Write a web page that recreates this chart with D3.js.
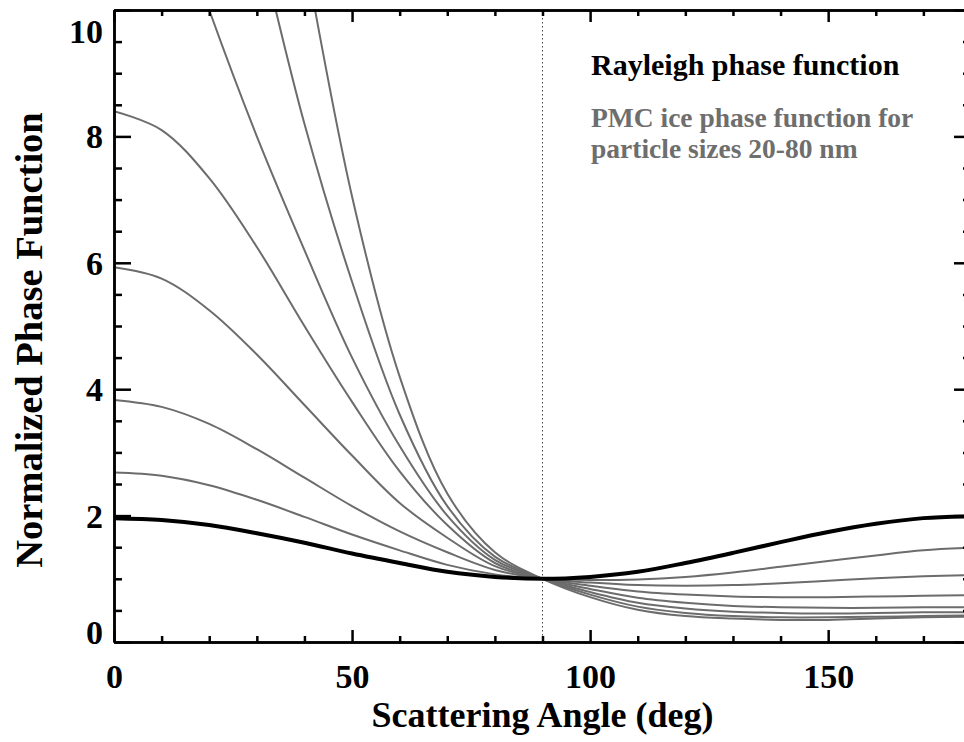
<!DOCTYPE html>
<html>
<head>
<meta charset="utf-8">
<script src="https://cdn.jsdelivr.net/npm/d3@7"></script>
<style>
  body { margin: 0; background: #fff; }
  svg { display: block; font-family: 'Liberation Serif', 'Times New Roman', serif; font-weight: bold; }
</style>
</head>
<body>
<div id="chart"></div>
<script>
// scattering angle grid (deg)
const angles = [0, 10, 20, 30, 40, 50, 60, 70, 80, 90, 100, 110, 120, 130, 140, 150, 160, 170, 180]

// normalized phase functions (null = off the top of the plot)
const rayleigh = [1.96, 1.93, 1.85, 1.72, 1.57, 1.4, 1.25, 1.11, 1.03, 1.0, 1.03, 1.11, 1.25, 1.41, 1.58, 1.74, 1.87, 1.96, 1.99]
const pmc20 = [2.68, 2.63, 2.48, 2.25, 1.98, 1.7, 1.45, 1.22, 1.07, 1.0, 0.98, 0.99, 1.03, 1.1, 1.19, 1.28, 1.37, 1.45, 1.49]
const pmc30 = [3.83, 3.72, 3.45, 3.05, 2.6, 2.15, 1.75, 1.42, 1.14, 1.0, 0.94, 0.9, 0.89, 0.9, 0.93, 0.97, 1.01, 1.04, 1.06]
const pmc40 = [5.93, 5.75, 5.25, 4.55, 3.75, 2.95, 2.2, 1.65, 1.2, 1.0, 0.89, 0.8, 0.75, 0.72, 0.71, 0.71, 0.72, 0.73, 0.74]
const pmc50 = [8.4, 8.1, 7.34, 6.25, 5.0, 3.8, 2.7, 1.85, 1.25, 1.0, 0.84, 0.7, 0.62, 0.57, 0.55, 0.54, 0.54, 0.55, 0.55]
const pmc60 = [null, 12.2, 10.0, 8.0, 6.2, 4.5, 3.1, 2.0, 1.3, 1.0, 0.79, 0.62, 0.53, 0.48, 0.46, 0.45, 0.46, 0.47, 0.47]
const pmc70 = [null, null, 14.0, 11.2, 8.2, 5.7, 3.6, 2.15, 1.35, 1.0, 0.75, 0.56, 0.46, 0.41, 0.39, 0.39, 0.4, 0.41, 0.42]
const pmc80 = [null, null, null, 15.0, 10.9, 7.05, 4.2, 2.35, 1.42, 1.0, 0.71, 0.51, 0.41, 0.37, 0.35, 0.35, 0.37, 0.39, 0.4]

const xTicks = [0, 50, 100, 150]
const xMinor = [10, 20, 30, 40, 60, 70, 80, 90, 110, 120, 130, 140, 160, 170]
const yTicks = [0, 2, 4, 6, 8, 10]
const yMinor = [0.5, 1, 1.5, 2.5, 3, 3.5, 4.5, 5, 5.5, 6.5, 7, 7.5, 8.5, 9, 9.5]

const pmcSeries = [pmc20, pmc30, pmc40, pmc50, pmc60, pmc70, pmc80]

const chartWidth = 964
const chartHeight = 742
const plot = { left: 114, right: 971, top: 10, bottom: 642 }

const svg = d3
  .select('#chart')
  .append('svg')
  .attr('width', chartWidth)
  .attr('height', chartHeight)

const x = d3.scaleLinear().domain([0, 180]).range([plot.left, plot.right])
const y = d3.scaleLinear().domain([0, 10]).range([plot.bottom, plot.top])

svg
  .append('clipPath')
  .attr('id', 'clip')
  .append('rect')
  .attr('x', plot.left)
  .attr('y', plot.top)
  .attr('width', plot.right - plot.left)
  .attr('height', plot.bottom - plot.top)

const line = d3
  .line()
  .defined((d) => d[1] !== null)
  .x((d) => x(d[0]))
  .y((d) => y(d[1]))
  .curve(d3.curveCatmullRom.alpha(0.5))

const toPoints = (values) => angles.map((a, i) => [a, values[i]])

const lines = svg.append('g').attr('clip-path', 'url(#clip)')

// dotted line at 90 deg
lines
  .append('line')
  .attr('x1', x(90))
  .attr('x2', x(90))
  .attr('y1', y(10))
  .attr('y2', y(0))
  .attr('stroke', '#444')
  .attr('stroke-width', 1)
  .attr('stroke-dasharray', '1.5,2.5')

lines
  .selectAll('path.pmc')
  .data(pmcSeries)
  .enter()
  .append('path')
  .attr('class', 'pmc')
  .attr('d', (d) => line(toPoints(d)))
  .attr('fill', 'none')
  .attr('stroke', '#6c6c6c')
  .attr('stroke-width', 2)

lines
  .append('path')
  .attr('d', line(toPoints(rayleigh)))
  .attr('fill', 'none')
  .attr('stroke', '#000')
  .attr('stroke-width', 4)

// axes: ticks point into the plot, labels only on bottom and left
const styleAxis = (g) => {
  g.select('.domain').attr('stroke', '#000').attr('stroke-width', 2.5)
  g.selectAll('.tick line').attr('stroke', '#000').attr('stroke-width', 2.5)
}
const styleLabels = (sel) =>
  sel
    .attr('fill', '#000')
    .style('font-size', '34px')
    .style('font-family', 'Liberation Serif')
    .style('font-weight', 'bold')

const axisB = svg
  .append('g')
  .attr('transform', `translate(0,${plot.bottom})`)
  .call(d3.axisBottom(x).tickValues(xTicks).tickSizeInner(-12).tickSizeOuter(0).tickPadding(0))
axisB.call(styleAxis)
axisB.selectAll('text').attr('y', 46).attr('dy', 0).call(styleLabels)
svg
  .append('g')
  .attr('transform', `translate(0,${plot.bottom})`)
  .call(d3.axisBottom(x).tickValues(xMinor).tickSizeInner(-6).tickSizeOuter(0).tickFormat(''))
  .call(styleAxis)

svg
  .append('g')
  .attr('transform', `translate(0,${plot.top})`)
  .call(d3.axisTop(x).tickValues(xTicks).tickSizeInner(-12).tickSizeOuter(0).tickFormat(''))
  .call(styleAxis)
svg
  .append('g')
  .attr('transform', `translate(0,${plot.top})`)
  .call(d3.axisTop(x).tickValues(xMinor).tickSizeInner(-6).tickSizeOuter(0).tickFormat(''))
  .call(styleAxis)

const axisL = svg
  .append('g')
  .attr('transform', `translate(${plot.left},0)`)
  .call(d3.axisLeft(y).tickValues(yTicks).tickSizeInner(-17).tickSizeOuter(0).tickPadding(11))
axisL.call(styleAxis)
axisL
  .selectAll('text')
  .attr('dy', (d) => (d === 10 ? '0.95em' : d === 0 ? '0.05em' : '0.34em'))
  .call(styleLabels)
svg
  .append('g')
  .attr('transform', `translate(${plot.left},0)`)
  .call(d3.axisLeft(y).tickValues(yMinor).tickSizeInner(-8).tickSizeOuter(0).tickFormat(''))
  .call(styleAxis)

svg
  .append('g')
  .attr('transform', `translate(${plot.right},0)`)
  .call(d3.axisRight(y).tickValues(yTicks).tickSizeInner(-17).tickSizeOuter(0).tickFormat(''))
  .call(styleAxis)
svg
  .append('g')
  .attr('transform', `translate(${plot.right},0)`)
  .call(d3.axisRight(y).tickValues(yMinor).tickSizeInner(-8).tickSizeOuter(0).tickFormat(''))
  .call(styleAxis)

// axis titles
svg
  .append('text')
  .attr('x', x(90))
  .attr('y', 727)
  .attr('text-anchor', 'middle')
  .style('font-size', '36px')
  .text('Scattering Angle (deg)')

svg
  .append('text')
  .attr('transform', `translate(42,${(y(0) + y(10)) / 2 + 14}) rotate(-90)`)
  .attr('text-anchor', 'middle')
  .style('font-size', '38.5px')
  .text('Normalized Phase Function')

// legend notes
svg
  .append('text')
  .attr('x', 591)
  .attr('y', 75)
  .style('font-size', '30px')
  .attr('fill', '#000')
  .text('Rayleigh phase function')

const note = svg
  .append('text')
  .attr('x', 591)
  .attr('y', 127)
  .style('font-size', '27.5px')
  .attr('fill', '#6e6e6e')
note.append('tspan').attr('x', 591).text('PMC ice phase function for')
note.append('tspan').attr('x', 591).attr('dy', 31).text('particle sizes 20-80 nm')
</script>
</body>
</html>
